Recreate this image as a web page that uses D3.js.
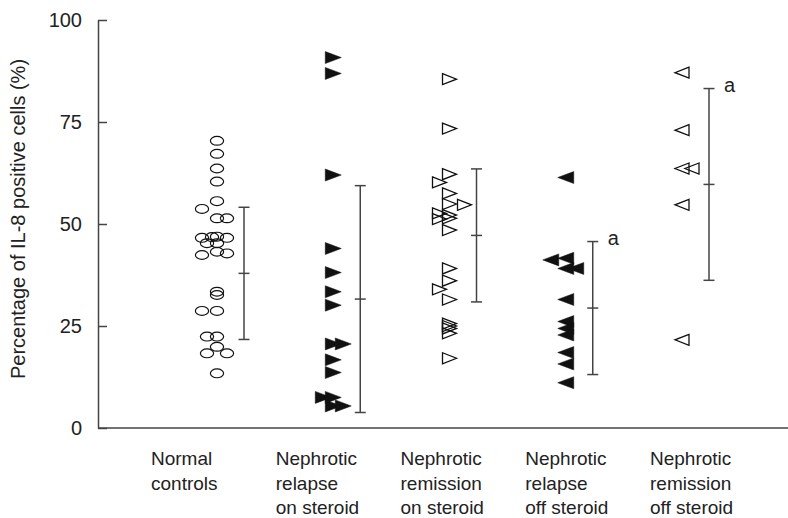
<!DOCTYPE html>
<html>
<head>
<meta charset="utf-8">
<script src="https://cdn.jsdelivr.net/npm/d3@7/dist/d3.min.js"></script>
<style>
  body { margin: 0; background: #fff; }
  text { font-family: "Liberation Sans", Arial, sans-serif; fill: #222; }
</style>
</head>
<body>
<svg id="chart" width="788" height="518"></svg>
<script>
// groups and their labels (one entry per line)
const groups = ["nc", "rel_on", "rem_on", "rel_off", "rem_off"]
const groupLabels = [
  ["Normal", "controls"],
  ["Nephrotic", "relapse", "on steroid"],
  ["Nephrotic", "remission", "on steroid"],
  ["Nephrotic", "relapse", "off steroid"],
  ["Nephrotic", "remission", "off steroid"]
]

// individual values (%), with side-by-side dodge slot
const values1 = [70.4, 67.2, 63.6, 60.4, 55.6, 53.7, 51.4, 51.4, 46.6, 46.8, 46.9, 46.6, 45.3, 45.3, 42.4, 43.2, 42.8, 33.4, 32.6, 28.7, 28.7, 22.4, 22.4, 19.9, 18.3, 18.3, 13.4]
const dodge1  = [0, 0, 0, 0, 0, -3, 0, 2, -3, -1, 0, 2, -2, 0, -3, 0, 2, 0, 0, -3, 0, -2, 0, 0, -2, 2, 0]
const values2 = [90.8, 86.9, 62.0, 44.0, 38.1, 33.4, 30.1, 20.6, 20.6, 16.7, 13.6, 7.5, 7.5, 5.4, 5.4]
const dodge2  = [0, 0, 0, 0, 0, 0, 0, 0, 2, 0, 0, -2, 0, 0, 2]
const values3 = [85.5, 73.4, 62.2, 60.2, 57.5, 54.9, 54.7, 52.6, 52.2, 51.2, 51.4, 48.5, 39.1, 36.1, 34.0, 31.5, 25.6, 25.0, 24.4, 23.2, 17.1]
const dodge3  = [0, 0, 0, -2, 0, 0, 3, -2, 0, -2, 0, 0, 0, 0, -2, 0, 0, 0, 0, 0, 0]
const values4 = [61.4, 41.2, 41.6, 39.1, 39.1, 31.5, 26.1, 24.4, 22.8, 18.5, 15.7, 11.1]
const dodge4  = [0, -3, 0, 0, 2, 0, 0, 0, 0, 0, 0, 0]
const values5 = [87.1, 73.0, 63.6, 63.6, 54.7, 21.6]
const dodge5  = [0, 0, 0, 2, 0, 0]

// mean and SD per group
const means = [37.9, 31.6, 47.2, 29.4, 59.7]
const sds   = [16.2, 27.8, 16.3, 16.3, 23.5]
const sig   = ["", "", "", "a", "a"]

const yTicks = [0, 25, 50, 75, 100]

const allValues = [values1, values2, values3, values4, values5]
const allDodge  = [dodge1, dodge2, dodge3, dodge4, dodge5]
// marker kind per group: circle, filled right, open right, filled left, open left
const kinds = ["circle", "rightFill", "rightOpen", "leftFill", "leftOpen"]

const svg = d3.select("#chart")

let y = d3.scaleLinear().domain([0, 100]).range([428, 20])
let x = d3.scalePoint().domain(groups).range([217, 682])
let xLab = d3.scalePoint().domain(groups).range([151, 650])
let dodge = d3.scaleLinear().domain([0, 1]).range([0, 5])

// y axis, ticks pointing inward
let yAxis = svg.append("g")
  .attr("transform", "translate(98,0)")
  .call(d3.axisLeft(y).tickValues(yTicks).tickSizeInner(-9).tickSizeOuter(0).tickPadding(16))
yAxis.selectAll("path, line").attr("stroke", "#444").attr("stroke-width", 1.5)
yAxis.selectAll("text").style("font-size", "20px").attr("fill", "#222")

// x baseline
svg.append("line")
  .attr("x1", 98).attr("x2", 788)
  .attr("y1", y(0)).attr("y2", y(0))
  .attr("stroke", "#444").attr("stroke-width", 1.5)

svg.append("text")
  .attr("transform", "translate(25," + (y(50) - 5) + ") rotate(-90)")
  .attr("text-anchor", "middle")
  .style("font-size", "20px")
  .text("Percentage of IL-8 positive cells (%)")

// group labels
groups.forEach((g, i) => {
  let t = svg.append("text")
    .attr("x", xLab(g)).attr("y", 465)
    .style("font-size", "19px")
  groupLabels[i].forEach((line, j) => {
    t.append("tspan").attr("x", xLab(g)).attr("dy", j == 0 ? 0 : 24.5).text(line)
  })
})

function markerPath(kind) {
  let w = 14, h = 11
  if (kind == "rightFill" || kind == "leftFill") { w = 16; h = 12 }
  if (kind.startsWith("right")) {
    return "M" + (-w / 2) + "," + (-h / 2) + "L" + (w / 2) + ",0L" + (-w / 2) + "," + (h / 2) + "Z"
  }
  return "M" + (w / 2) + "," + (-h / 2) + "L" + (-w / 2) + ",0L" + (w / 2) + "," + (h / 2) + "Z"
}

// points
groups.forEach((g, i) => {
  let pts = allValues[i].map((v, k) => ({ v: v, d: allDodge[i][k] }))
  let kind = kinds[i]
  let layer = svg.append("g")
  if (kind == "circle") {
    layer.selectAll("ellipse").data(pts).enter().append("ellipse")
      .attr("cx", d => x(g) + dodge(d.d))
      .attr("cy", d => y(d.v))
      .attr("rx", 6.6).attr("ry", 4.4)
      .attr("fill", "none").attr("stroke", "#111").attr("stroke-width", 1.2)
  } else {
    let filled = kind.endsWith("Fill")
    layer.selectAll("path").data(pts).enter().append("path")
      .attr("d", markerPath(kind))
      .attr("transform", d => "translate(" + (x(g) + dodge(d.d)) + "," + y(d.v) + ")")
      .attr("fill", filled ? "#111" : "none")
      .attr("stroke", "#111")
      .attr("stroke-width", filled ? 0.5 : 1.3)
      .attr("stroke-linejoin", "miter")
  }
})

// mean +/- SD bars
groups.forEach((g, i) => {
  let bx = x(g) + 27
  let top = y(means[i] + sds[i]), mid = y(means[i]), bot = y(means[i] - sds[i])
  let eb = svg.append("g").attr("stroke", "#444").attr("stroke-width", 1.5)
  eb.append("line").attr("x1", bx).attr("x2", bx).attr("y1", top).attr("y2", bot)
  ;[top, mid, bot].forEach(yy => {
    eb.append("line").attr("x1", bx - 5.5).attr("x2", bx + 5.5).attr("y1", yy).attr("y2", yy)
  })
  if (sig[i]) {
    svg.append("text")
      .attr("x", bx + 15).attr("y", top + 3)
      .style("font-size", "20px")
      .text(sig[i])
  }
})
</script>
</body>
</html>
